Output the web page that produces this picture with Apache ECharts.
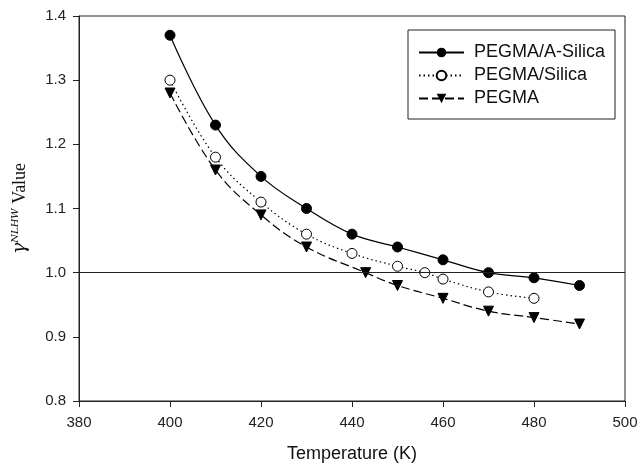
<!DOCTYPE html>
<html>
<head>
    <meta charset="utf-8">
    <title>ECharts</title>
    <script src="https://cdn.jsdelivr.net/npm/echarts@6/dist/echarts.min.js"></script>
</head>
<body style="margin:0">
    <div id="main" style="width:640px; height:464px;"></div>
    <script>
        var element = document.querySelector('#main')
        var myChart = echarts.init(element)

        // data
        var aSilicaT = [400, 410, 420, 430, 440, 450, 460, 470, 480, 490]
        var aSilicaV = [1.37, 1.23, 1.15, 1.10, 1.06, 1.04, 1.02, 1.00, 0.992, 0.98]
        var silicaT = [400, 410, 420, 430, 440, 450, 456, 460, 470, 480]
        var silicaV = [1.30, 1.18, 1.11, 1.06, 1.03, 1.01, 1.00, 0.99, 0.97, 0.96]
        var pegmaT = [400, 410, 420, 430, 443, 450, 460, 470, 480, 490]
        var pegmaV = [1.28, 1.16, 1.09, 1.04, 1.00, 0.98, 0.96, 0.94, 0.93, 0.92]
        var names = ['PEGMA/A-Silica', 'PEGMA/Silica', 'PEGMA']

        var pairs = function(xs, ys) {
            return xs.map(function(x, i) { return [x, ys[i]] })
        }

        var font = 'Liberation Sans'

        var option = {
            backgroundColor: '#fff',
            animation: false,
            grid: {
                left: 79, right: 15, top: 16, bottom: 63,
                outerBoundsMode: 'none',
                show: true, borderColor: '#222', borderWidth: 1
            },
            legend: {
                data: names,
                orient: 'vertical',
                left: 408, top: 30,
                padding: [12, 10, 10, 10],
                itemGap: 2,
                itemWidth: 45,
                itemHeight: 12,
                borderColor: '#222',
                borderWidth: 1,
                textStyle: {fontFamily: font, fontSize: 18, color: '#111',
                    lineHeight: 21, padding: [0, 0, 0, 5]}
            },
            xAxis: {
                type: 'value',
                min: 380, max: 500, interval: 20,
                name: 'Temperature (K)',
                nameLocation: 'middle',
                nameGap: 44,
                nameTextStyle: {fontFamily: font, fontSize: 18, color: '#111'},
                axisLine: {lineStyle: {color: '#222'}},
                axisTick: {inside: false, length: 6, lineStyle: {color: '#222'}},
                axisLabel: {fontFamily: font, fontSize: 15, color: '#222', margin: 14},
                splitLine: {show: false}
            },
            yAxis: {
                type: 'value',
                min: 0.8, max: 1.4, interval: 0.1,
                name: '{g|γ}{s|NLHW}{v| Value}',
                nameLocation: 'middle',
                nameGap: 49,
                nameRotate: 90,
                nameTextStyle: {
                    rich: {
                        g: {fontFamily: 'DejaVu Serif', fontStyle: 'italic', fontSize: 19, color: '#111'},
                        s: {fontFamily: 'DejaVu Serif', fontStyle: 'italic', fontSize: 10, color: '#111', verticalAlign: 'top', padding: [0, 0, 10, 0]},
                        v: {fontFamily: 'Liberation Serif', fontSize: 18, color: '#111'}
                    }
                },
                axisLine: {show: true, lineStyle: {color: '#222'}},
                axisTick: {show: true, inside: false, length: 6, lineStyle: {color: '#222'}},
                axisLabel: {fontFamily: font, fontSize: 15, color: '#222', margin: 13,
                    formatter: function(v) { return v.toFixed(1) }},
                splitLine: {show: false}
            },
            series: [
                {
                    name: names[0],
                    type: 'line',
                    data: pairs(aSilicaT, aSilicaV),
                    smooth: 0.4,
                    symbol: 'circle',
                    symbolSize: 10,
                    itemStyle: {color: '#000', borderColor: '#000'},
                    lineStyle: {color: '#000', width: 1.2, type: 'solid'},
                    markLine: {
                        silent: true,
                        symbol: 'none',
                        label: {show: false},
                        lineStyle: {color: '#222', width: 1, type: 'solid'},
                        data: [{yAxis: 1.0}]
                    },
                    z: 3
                },
                {
                    name: names[1],
                    type: 'line',
                    data: pairs(silicaT, silicaV),
                    smooth: 0.4,
                    symbol: 'circle',
                    symbolSize: 10,
                    itemStyle: {color: '#fff', borderColor: '#000', borderWidth: 1},
                    lineStyle: {color: '#000', width: 1.2, type: [1.5, 3]},
                    z: 3
                },
                {
                    name: names[2],
                    type: 'line',
                    data: pairs(pegmaT, pegmaV),
                    smooth: 0.4,
                    symbol: 'triangle',
                    symbolRotate: 180,
                    symbolSize: 10,
                    itemStyle: {color: '#000', borderColor: '#000'},
                    lineStyle: {color: '#000', width: 1.2, type: [9, 4]},
                    z: 3
                }
            ]
        }

        myChart.setOption(option)
    </script>
</body>
</html>
